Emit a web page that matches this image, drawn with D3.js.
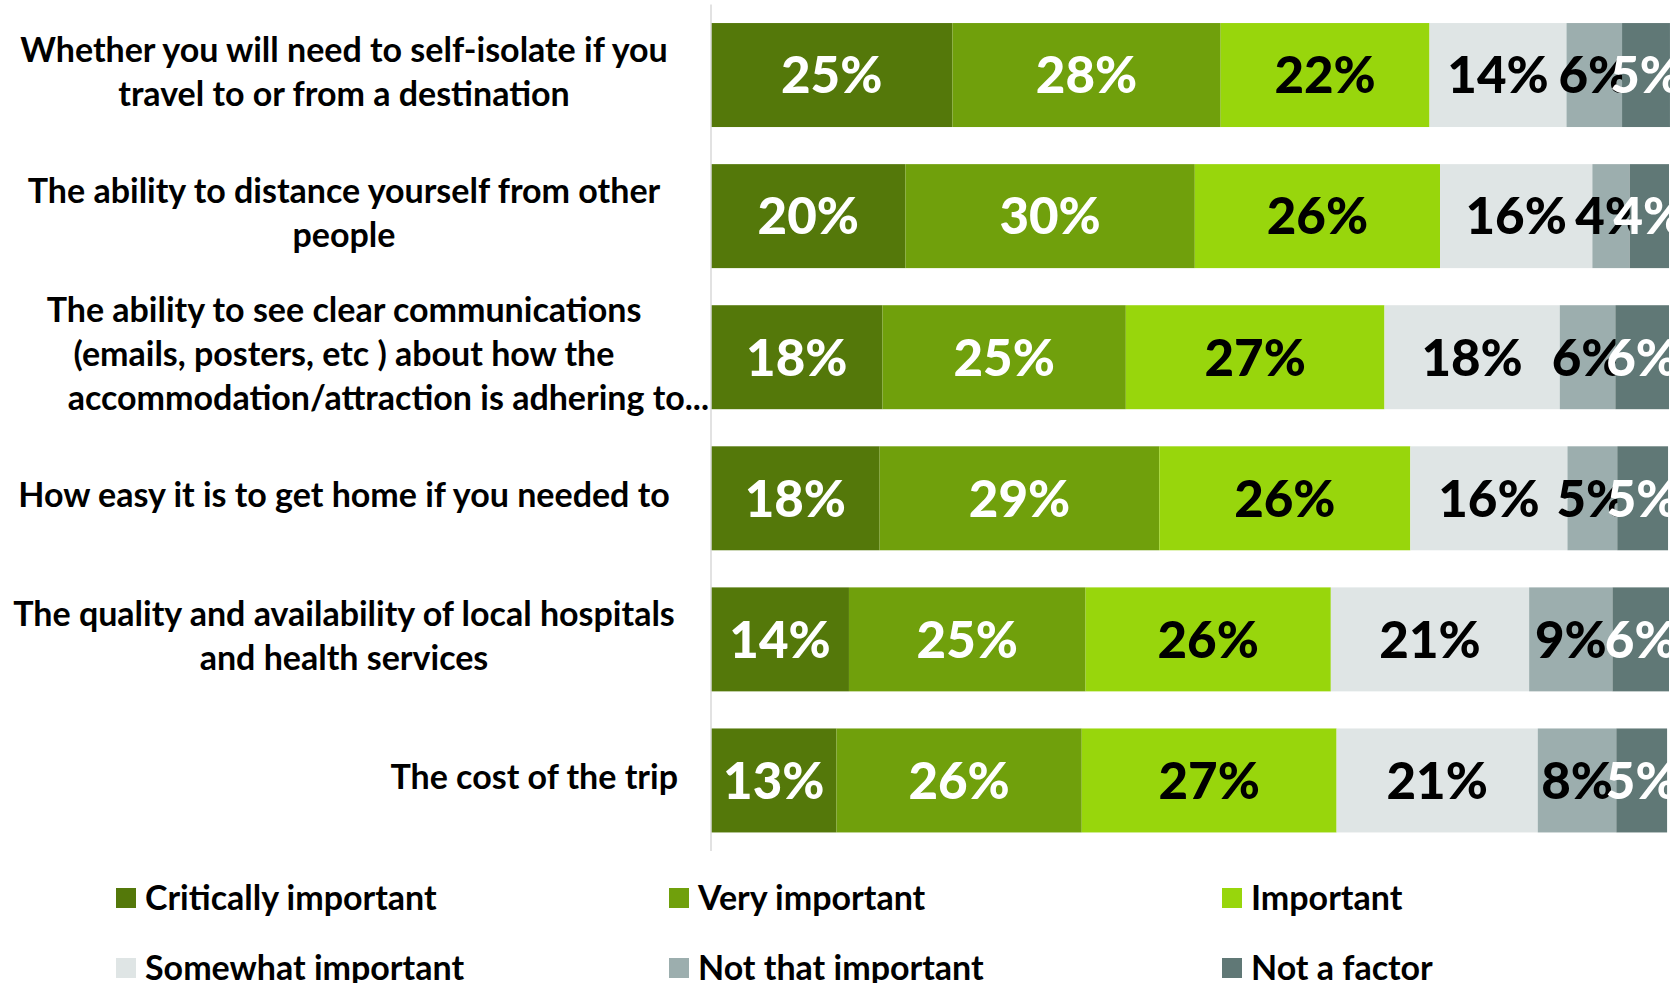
<!DOCTYPE html>
<meta charset="utf-8">
<style>
body { margin: 0; background: #fff; }
text { font-family: Lato, "Noto Sans", sans-serif; font-weight: 700; }
.axis-line { stroke: #d9d9d9; stroke-width: 1.5px; }
</style>
<svg width="1671" height="983"></svg>
<script src="https://cdn.jsdelivr.net/npm/d3@7"></script>
<script>

// categories (label lines) and response groups
var categories = [
  ["Whether you will need to self-isolate if you", "travel to or from a destination"],
  ["The ability to distance yourself from other", "people"],
  ["The ability to see clear communications", "(emails, posters, etc ) about how the", "accommodation/attraction is adhering to..."],
  ["How easy it is to get home if you needed to"],
  ["The quality and availability of local hospitals", "and health services"],
  ["The cost of the trip"]
];
// the truncated line and the short last label sit flush right, like the original
var labelAnchors = [["middle", "middle"], ["middle", "middle"], ["middle", "middle", "axis"],
                    ["middle"], ["middle", "middle"], ["end"]];

var groups = ["Critically important", "Very important", "Important",
              "Somewhat important", "Not that important", "Not a factor"];

// share of respondents (%) per category, one array per group
var critically = [25.2, 20.3, 17.9, 17.6, 14.4, 13.1];
var very       = [28.0, 30.2, 25.4, 29.2, 24.7, 25.6];
var important  = [21.8, 25.6, 27.0, 26.2, 25.6, 26.6];
var somewhat   = [14.3, 15.9, 18.3, 16.4, 20.7, 21.0];
var notThat    = [5.8, 3.9, 5.8, 5.2, 8.7, 8.2];
var notFactor  = [5.0, 4.1, 5.6, 5.3, 5.9, 5.3];

var colors = ["#54780a", "#70a00c", "#98d60c", "#dfe5e5", "#9caeae", "#607876"];
var textColors = ["#fff", "#fff", "#000", "#000", "#000", "#fff"];

var svg = d3.select("svg"),
    margin = {left: 711, right: 2};

var rows = categories.map(function(c, i) {
  var r = {i: i};
  r[groups[0]] = critically[i];
  r[groups[1]] = very[i];
  r[groups[2]] = important[i];
  r[groups[3]] = somewhat[i];
  r[groups[4]] = notThat[i];
  r[groups[5]] = notFactor[i];
  return r;
});

var series = d3.stack().keys(groups)(rows);

var x = d3.scaleLinear().domain([0, 100]).range([margin.left, 1671 - margin.right]);
var y = d3.scaleBand().domain(d3.range(categories.length))
    .range([4.5, 851]).paddingInner(0.263).paddingOuter(0.1315);

var g = svg.append("g");

var layer = g.selectAll(".layer")
  .data(series)
  .enter().append("g")
    .attr("class", "layer")
    .attr("fill", function(d, i) { return colors[i]; });

layer.selectAll("rect")
  .data(function(d) { return d; })
  .enter().append("rect")
    .attr("x", function(d) { return x(d[0]); })
    .attr("y", function(d) { return y(d.data.i); })
    .attr("width", function(d) { return x(d[1]) - x(d[0]); })
    .attr("height", y.bandwidth());

layer.each(function(s, k) {
  d3.select(this).selectAll("text")
    .data(s)
    .enter().append("text")
      .attr("x", function(d) { return (x(d[0]) + x(d[1])) / 2; })
      .attr("y", function(d) { return y(d.data.i) + y.bandwidth() / 2; })
      .attr("dy", "0.36em")
      .attr("text-anchor", "middle")
      .attr("fill", textColors[k])
      .style("font-size", "51px")
      .style("font-weight", 900)
      .text(function(d) { return Math.round(d[1] - d[0]) + "%"; });
});

// vertical axis line
g.append("line")
    .attr("class", "axis-line")
    .attr("x1", margin.left).attr("x2", margin.left)
    .attr("y1", y.range()[0]).attr("y2", y.range()[1]);

// category labels
var lineH = 44;
categories.forEach(function(lines, i) {
  var cy = y(i) + y.bandwidth() / 2 - 3;
  var t = svg.append("text")
      .style("font-size", "34px")
      .attr("fill", "#000");
  lines.forEach(function(l, j) {
    var a = labelAnchors[i][j];
    t.append("tspan")
      .attr("text-anchor", a === "middle" ? "middle" : "end")
      .attr("x", a === "middle" ? 344 : a === "end" ? 678 : margin.left - 2)
      .attr("y", cy + (j - (lines.length - 1) / 2) * lineH)
      .attr("dy", "0.35em")
      .text(l);
  });
});

// legend
var legend = svg.append("g").selectAll("g")
  .data(groups)
  .enter().append("g")
    .attr("transform", function(d, i) {
      return "translate(" + (116 + (i % 3) * 553) + "," + (888 + Math.floor(i / 3) * 70) + ")";
    });

legend.append("rect")
    .attr("width", 20).attr("height", 20)
    .attr("fill", function(d, i) { return colors[i]; });

legend.append("text")
    .attr("x", 29).attr("y", 10).attr("dy", "0.36em")
    .style("font-size", "34px")
    .text(function(d) { return d; });

</script>
